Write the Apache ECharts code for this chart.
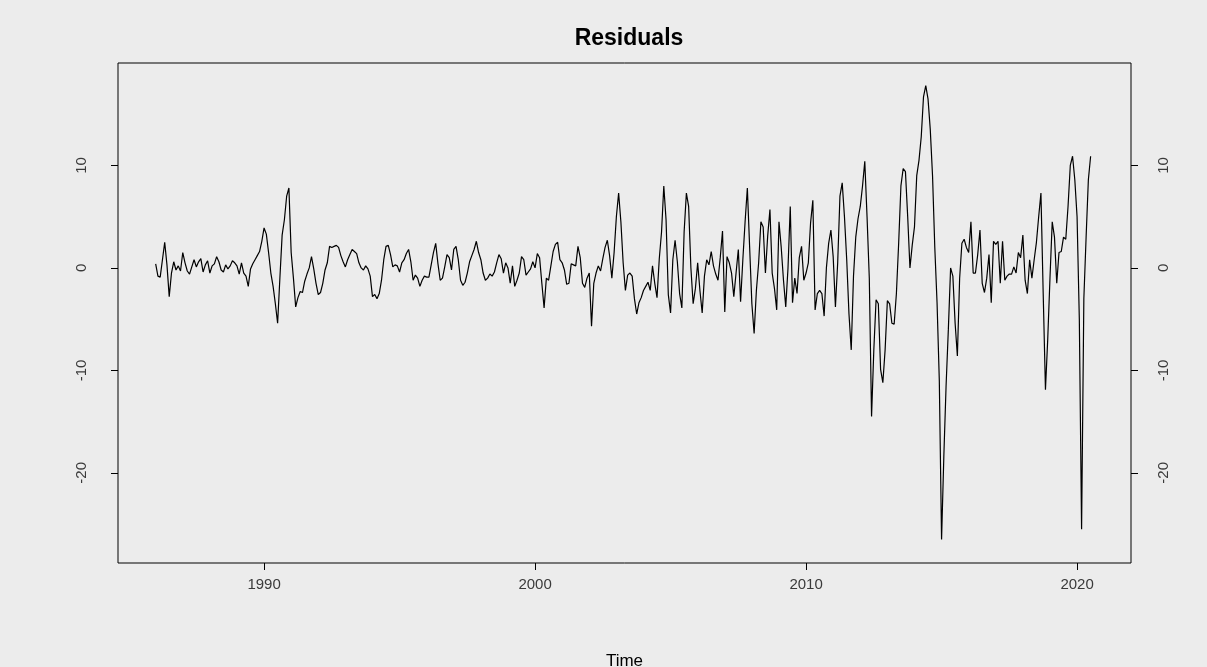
<!DOCTYPE html>
<html>
<head>
<meta charset="utf-8">
<title>Residuals</title>
<script src="https://cdn.jsdelivr.net/npm/echarts@6/dist/echarts.min.js"></script>
<style>
  html, body { margin: 0; padding: 0; background: #ececec; }
  #chart { width: 1207px; height: 667px; }
</style>
</head>
<body>
<div id="chart"></div>
<script>
// monthly residuals, first value is Jan 1986
var startYear = 1986;
var residuals = [
  0.4, -0.8, -0.9, 0.8, 2.5, 0.3, -2.8, -0.5, 0.6, -0.2, 0.2, -0.3,      // 1986
  1.5, 0.5, -0.3, -0.6, 0.1, 0.8, 0.1, 0.6, 0.9, -0.4, 0.3, 0.7,         // 1987
  -0.5, 0.2, 0.4, 1.1, 0.6, -0.2, -0.4, 0.3, -0.1, 0.2, 0.7, 0.5,        // 1988
  0.2, -0.6, 0.5, -0.5, -0.8, -1.8, -0.1, 0.4, 0.8, 1.2, 1.6, 2.6,       // 1989
  3.9, 3.3, 1.5, -0.5, -1.8, -3.5, -5.4, -1.0, 3.2, 4.7, 7.0, 7.8,       // 1990
  1.5, -1.0, -3.8, -2.9, -2.3, -2.4, -1.3, -0.6, 0.0, 1.1, -0.1, -1.5,   // 1991
  -2.6, -2.4, -1.5, -0.2, 0.5, 2.1, 2.0, 2.1, 2.2, 2.0, 1.2, 0.6,        // 1992
  0.1, 0.8, 1.3, 1.8, 1.6, 1.4, 0.5, 0.0, -0.2, 0.2, -0.1, -0.8,         // 1993
  -2.8, -2.6, -3.0, -2.5, -1.2, 0.8, 2.1, 2.2, 1.3, 0.1, 0.3, 0.2,       // 1994
  -0.4, 0.5, 0.8, 1.4, 1.8, 0.6, -1.2, -0.7, -1.0, -1.8, -1.2, -0.8,     // 1995
  -0.9, -0.9, 0.3, 1.5, 2.4, 0.4, -1.2, -1.0, 0.1, 1.3, 1.0, -0.2,       // 1996
  1.8, 2.1, 0.8, -1.2, -1.7, -1.4, -0.5, 0.6, 1.2, 1.8, 2.6, 1.5,        // 1997
  0.8, -0.5, -1.2, -1.0, -0.6, -0.8, -0.4, 0.5, 1.3, 0.9, -0.5, 0.5,     // 1998
  0.0, -1.5, 0.2, -1.8, -1.2, -0.5, 1.1, 0.8, -0.7, -0.4, -0.1, 0.6,     // 1999
  0.0, 1.4, 1.0, -1.5, -3.9, -1.0, -1.2, 0.2, 1.6, 2.3, 2.5, 0.8,        // 2000
  0.5, -0.2, -1.6, -1.5, 0.4, 0.3, 0.2, 2.1, 1.0, -1.5, -1.9, -1.0,      // 2001
  -0.5, -5.7, -1.5, -0.5, 0.2, -0.3, 0.9, 2.0, 2.7, 1.2, -1.0, 1.5,      // 2002
  5.0, 7.3, 4.5, 0.5, -2.2, -0.7, -0.5, -0.8, -3.0, -4.5, -3.4, -2.9,    // 2003
  -2.2, -1.8, -1.4, -2.2, 0.2, -1.5, -2.9, 0.9, 3.5, 8.0, 4.7, -2.6,     // 2004
  -4.4, 0.8, 2.7, 0.6, -2.5, -3.9, 3.5, 7.3, 6.0, 0.0, -3.5, -2.0,       // 2005
  0.5, -2.2, -4.4, -0.8, 0.8, 0.3, 1.6, 0.2, -0.6, -1.2, 1.0, 3.6,       // 2006
  -4.3, 1.1, 0.5, -0.5, -2.8, -0.5, 1.8, -3.3, 0.8, 4.5, 7.8, 2.1,       // 2007
  -3.5, -6.4, -2.2, 0.5, 4.5, 4.0, -0.5, 3.1, 5.7, -0.5, -2.0, -4.1,     // 2008
  4.5, 2.0, -1.2, -3.8, 0.0, 6.0, -3.4, -1.0, -2.5, 1.0, 2.1, -1.2,      // 2009
  -0.5, 0.5, 4.4, 6.6, -4.1, -2.5, -2.2, -2.5, -4.7, 0.0, 2.4, 3.7,      // 2010
  1.1, -3.8, 0.5, 7.0, 8.3, 5.0, 0.8, -4.5, -8.0, -0.8, 3.0, 4.8,        // 2011
  6.0, 8.0, 10.4, 5.0, -1.0, -14.5, -8.0, -3.1, -3.5, -9.9, -11.2, -8.0, // 2012
  -3.2, -3.5, -5.4, -5.5, -2.5, 2.4, 8.0, 9.7, 9.4, 5.0, 0.0, 2.2,       // 2013
  4.0, 9.0, 10.5, 12.8, 16.7, 17.8, 16.5, 13.5, 9.0, 2.0, -3.4, -11.0,   // 2014
  -26.5, -18.4, -11.5, -6.0, 0.0, -0.8, -5.4, -8.6, -1.0, 2.4, 2.8, 2.0, // 2015
  1.5, 4.5, -0.5, -0.5, 1.3, 3.7, -1.5, -2.4, -1.0, 1.3, -3.4, 2.6,      // 2016
  2.3, 2.6, -1.5, 2.6, -1.2, -0.8, -0.6, -0.6, 0.1, -0.5, 1.5, 1.0,      // 2017
  3.2, -1.2, -2.5, 0.8, -1.0, 0.8, 2.5, 5.0, 7.3, -2.5, -11.9, -7.0,     // 2018
  -1.0, 4.5, 3.0, -1.5, 1.5, 1.6, 3.0, 2.8, 6.0, 10.0, 10.9, 8.6,        // 2019
  5.0, -5.0, -25.5, -3.0, 3.0, 8.6, 10.9                                 // 2020
];
var xTicks = [1990, 2000, 2010, 2020];
var yTicks = [-20, -10, 0, 10];

var points = [];
for (var i = 0; i < residuals.length; ++i) {
    points.push([startYear + i / 12, residuals[i]]);
}

var fontFam = '"Liberation Sans", Arial, Helvetica, sans-serif';
var myChart = echarts.init(document.getElementById('chart'), null, { renderer: 'canvas' });

var yAxisBase = function (pos, margin) {
    return {
        type: 'value',
        position: pos,
        min: -28.8,
        max: 20.0,
        axisLine: { show: false, onZero: false },
        splitLine: { show: false },
        axisTick: {
            show: true,
            length: 7,
            customValues: yTicks,
            lineStyle: { color: '#000', width: 1 }
        },
        axisLabel: {
            show: true,
            customValues: yTicks,
            rotate: 90,
            margin: margin,
            color: '#3a3a3a',
            fontSize: 15,
            fontFamily: fontFam,
            formatter: function (v) { return String(v); }
        }
    };
};

var option = {
    backgroundColor: '#ececec',
    animation: false,
    title: {
        text: 'Residuals',
        left: 624,
        top: 22,
        textAlign: 'center',
        textStyle: { fontSize: 23, fontWeight: 'bold', color: '#000', fontFamily: fontFam }
    },
    grid: {
        left: 118,
        right: 76,
        top: 63,
        bottom: 104,
        outerBoundsMode: 'none',
        containLabel: false,
        show: true,
        borderColor: '#000',
        borderWidth: 1,
        backgroundColor: 'transparent'
    },
    xAxis: {
        type: 'value',
        min: 1984.61,
        max: 2021.99,
        name: 'Time',
        nameLocation: 'middle',
        nameGap: 90,
        nameTextStyle: { fontSize: 17, color: '#000', fontFamily: fontFam },
        axisLine: { show: false, onZero: false },
        splitLine: { show: false },
        axisTick: {
            show: true,
            length: 7,
            customValues: xTicks,
            lineStyle: { color: '#000', width: 1 }
        },
        axisLabel: {
            customValues: xTicks,
            margin: 14,
            color: '#3a3a3a',
            fontSize: 15,
            fontFamily: fontFam,
            formatter: function (v) { return String(v); }
        }
    },
    yAxis: [yAxisBase('left', 29), yAxisBase('right', 25)],
    series: [{
        name: 'Residuals',
        type: 'line',
        data: points,
        showSymbol: false,
        symbol: 'none',
        smooth: false,
        lineStyle: { color: '#000', width: 1.2 },
        yAxisIndex: 0
    }]
};

myChart.setOption(option);
</script>
</body>
</html>
